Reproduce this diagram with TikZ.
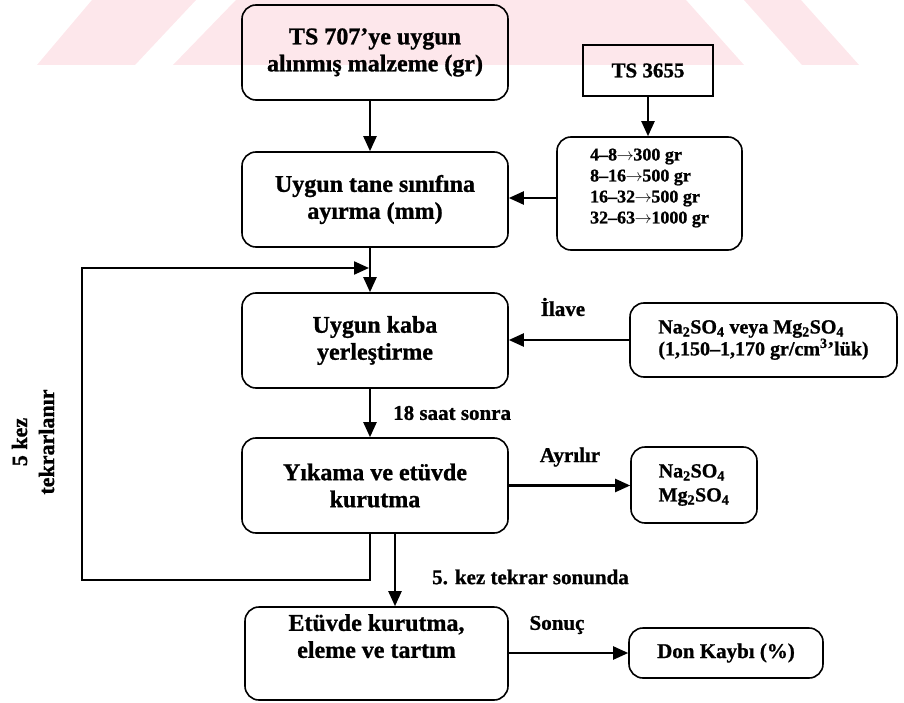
\documentclass[tikz,border=0pt]{standalone}
\usepackage{fontspec}
\setmainfont{Liberation Serif}[BoldFeatures={FakeBold=1}]
\usetikzlibrary{arrows.meta}
\definecolor{wmpink}{RGB}{253,231,235}
\newcommand{\ra}{\kern-0.5pt$\rightarrow$\kern-0.5pt}
\begin{document}
\begin{tikzpicture}[x=1pt,y=-1pt,
  box/.style={draw, line width=1.6pt, rounded corners=14pt, inner sep=0pt,
    align=center, font=\fontsize{24}{27}\selectfont\bfseries},
  sqbox/.style={draw, line width=1.6pt, inner sep=0pt, align=center,
    font=\fontsize{21}{25}\selectfont\bfseries},
  lbl/.style={inner sep=0pt, font=\fontsize{21}{25}\selectfont\bfseries},
  conn/.style={line width=2.2pt, -{Triangle[length=15pt,width=13pt]}}]

% page frame
\useasboundingbox (0,0) rectangle (904,703);

% faint background band at the top
\fill[wmpink] (37,65) -- (135,65) -- (196,0) -- (92,0) -- cycle;
\fill[wmpink] (173,65) -- (744,65) -- (686,0) -- (236,0) -- cycle;
\fill[wmpink] (744,0) -- (801,0) -- (859,65) -- (802,65) -- cycle;

% main column
\node[box, minimum width=266pt, minimum height=95pt] (n1) at (375,52.5)
  {TS 707’ye uygun\\alınmış malzeme (gr)};
\node[box, minimum width=266pt, minimum height=95pt] (n2) at (375,199.5)
  {Uygun tane sınıfına\\ayırma (mm)};
\node[box, minimum width=266pt, minimum height=95pt] (n3) at (375,340.5)
  {Uygun kaba\\yerleştirme};
\node[box, minimum width=266pt, minimum height=95pt] (n4) at (375,485.5)
  {Yıkama ve etüvde\\kurutma};
\node[box, minimum width=263pt, minimum height=93pt] (n5) at (376.5,653.5)
  {Etüvde kurutma,\\eleme ve tartım\\[8pt]\mbox{}};

% side column
\node[sqbox, minimum width=130pt, minimum height=51pt] (ts) at (648,70.5) {TS 3655};
\node[box, minimum width=185pt, minimum height=113pt, align=left,
  font=\fontsize{18}{21}\selectfont\bfseries] (lst) at (649.5,193.5)
  {4–8\ra300 gr\\8–16\ra500 gr\\16–32\ra500 gr\\32–63\ra1000 gr\\[-6pt]\mbox{}};
\node[box, minimum width=267pt, minimum height=74pt, align=left,
  font=\fontsize{20}{22}\selectfont\bfseries] (rg) at (763.5,340)
  {Na\textsubscript{2}SO\textsubscript{4} veya Mg\textsubscript{2}SO\textsubscript{4}\\(1,150–1,170 gr/cm\textsuperscript{3}’lük)};
\node[box, minimum width=126pt, minimum height=76pt, align=left,
  font=\fontsize{20}{24}\selectfont\bfseries] (na) at (694,485)
  {Na\textsubscript{2}SO\textsubscript{4}\\Mg\textsubscript{2}SO\textsubscript{4}};
\node[box, minimum width=194pt, minimum height=50pt,
  font=\fontsize{21}{25}\selectfont\bfseries] (don) at (726,653) {Don Kaybı (\%)};

% connector guides
\coordinate (cx) at (370,0);
\coordinate (cy) at (395,0);
\coordinate (lb) at (82,580);
\coordinate (lt) at (82,268);
\coordinate (lend) at (369,268);

% connectors
\draw[conn] (n1.south -| cx) -- (n2.north -| cx);
\draw[conn] (ts.south) -- (lst.north -| ts.south);
\draw[conn] (lst.west |- 0,198) -- (n2.east |- 0,198);
\draw[conn] (n2.south -| cx) -- (n3.north -| cx);
\draw[conn] (rg.west) -- (n3.east |- rg.west);
\draw[conn] (n3.south -| cx) -- (n4.north -| cx);
\draw[conn] (n4.east) -- (na.west |- n4.east);
\draw[conn] (n4.south -| cy) -- (n5.north -| cy);
\draw[conn] (n5.east |- don.west) -- (don.west);
\draw[conn] (n4.south -| cx) -- (cx |- lb) -- (lb) -- (lt) -- (lend);

% labels
\node[lbl] (ilave) at (563,307) {İlave};
\node[lbl, anchor=west] (saat) at (393,413) {18 saat sonra};
\node[lbl] (ayr) at (570,457) {Ayrılır};
\node[lbl, anchor=west] (kez) at (432,577) {5. kez tekrar sonunda};
\node[lbl] (sonuc) at (557,625) {Sonuç};
\node[lbl, rotate=90, align=center, font=\fontsize{22}{27}\selectfont\bfseries]
  (rep) at (33,442) {5 kez\\tekrarlanır};
\end{tikzpicture}
\end{document}
